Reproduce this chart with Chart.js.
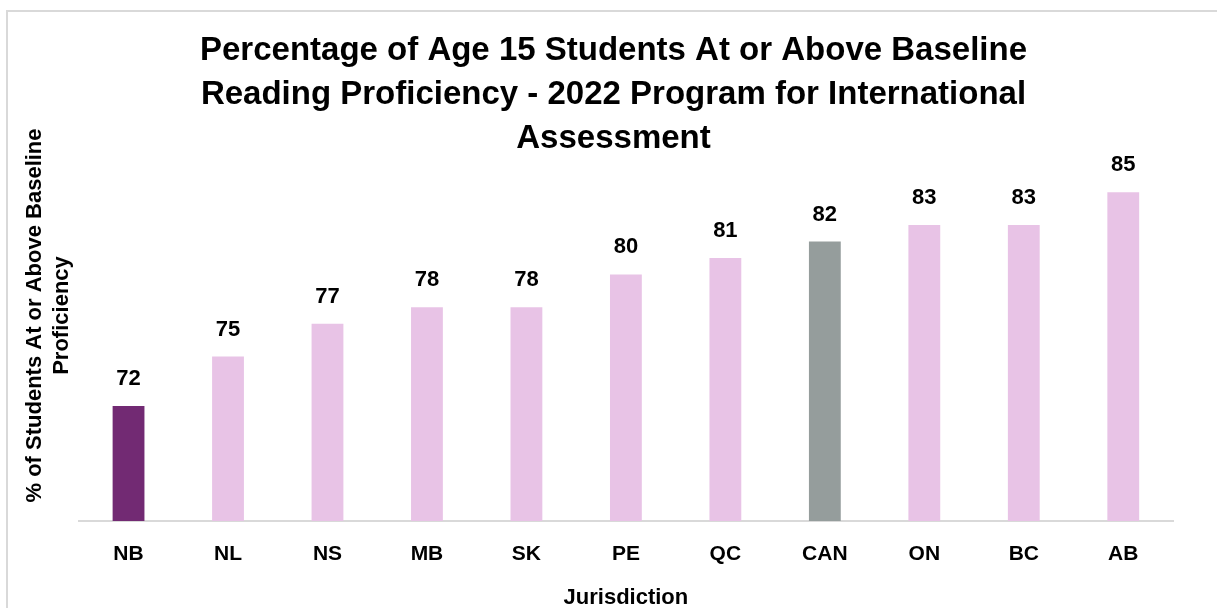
<!DOCTYPE html>
<html>
<head>
<meta charset="utf-8">
<script src="https://cdn.jsdelivr.net/npm/chart.js@4/dist/chart.umd.min.js"></script>
<style>
  html, body { margin: 0; padding: 0; background: #ffffff; }
  body { width: 1217px; height: 608px; position: relative; overflow: hidden; }
  #frame {
    position: absolute; left: 6px; top: 10px; width: 1220px; height: 610px;
    border-left: 2px solid #d9d9d9; border-top: 2px solid #d9d9d9;
  }
  #wrap { position: absolute; left: 0; top: 0; width: 1217px; height: 608px; }
</style>
</head>
<body>
<div id="frame"></div>
<div id="wrap"><canvas id="readingChart"></canvas></div>
<script>
const jurisdictions = ["NB", "NL", "NS", "MB", "SK", "PE", "QC", "CAN", "ON", "BC", "AB"];
const proficiency = [72, 75, 77, 78, 78, 80, 81, 82, 83, 83, 85];
const barColors = ["#722a73", "#e8c3e6", "#e8c3e6", "#e8c3e6", "#e8c3e6", "#e8c3e6",
                   "#e8c3e6", "#959d9c", "#e8c3e6", "#e8c3e6", "#e8c3e6"];
const titleLines = [
    "Percentage of Age 15 Students At or Above Baseline",
    "Reading Proficiency - 2022 Program for International",
    "Assessment"
];

const font = "'Liberation Sans', Arial, sans-serif";

// title + value labels drawn on the canvas
const labelPlugin = {
    id: "labelPlugin",
    afterDraw(chart) {
        const c = chart.ctx;
        c.save();
        c.fillStyle = "#000";
        c.textAlign = "center";
        c.textBaseline = "middle";
        c.font = "bold 33px " + font;
        const mid = chart.width / 2 + 5;
        titleLines.forEach((t, i) => c.fillText(t, mid, 51 + i * 44));

        c.font = "bold 22px " + font;
        const meta = chart.getDatasetMeta(0);
        meta.data.forEach((bar, i) => {
            c.fillText(String(proficiency[i]), bar.x, bar.y - 27);
        });
        c.restore();
    }
};

const ctx = document.getElementById("readingChart");

new Chart(ctx, {
    type: "bar",
    data: {
        labels: jurisdictions,
        datasets: [{
            data: proficiency,
            backgroundColor: barColors,
            categoryPercentage: 1,
            barPercentage: 0.32
        }]
    },
    options: {
        responsive: true,
        maintainAspectRatio: false,
        animation: false,
        layout: { padding: { left: 22, right: 44, top: 110, bottom: 0 } },
        plugins: {
            legend: { display: false },
            tooltip: { enabled: false },
            title: { display: false }
        },
        scales: {
            x: {
                grid: { display: false, drawTicks: false },
                border: { display: true, color: "#d9d9d9", width: 2 },
                ticks: {
                    color: "#000",
                    padding: 21,
                    font: { family: font, size: 21, weight: "bold" }
                },
                title: {
                    display: true,
                    text: "Jurisdiction",
                    color: "#000",
                    padding: { top: 0, bottom: 0 },
                    font: { family: font, size: 22, weight: "bold", lineHeight: 0.9 }
                }
            },
            y: {
                min: 65,
                max: 90,
                grid: { display: false, drawTicks: false },
                border: { display: false },
                ticks: { display: false },
                title: {
                    display: true,
                    text: ["% of Students At or Above Baseline", "Proficiency"],
                    color: "#000",
                    padding: { top: 0, bottom: 4 },
                    font: { family: font, size: 22, weight: "bold", lineHeight: 1.2 }
                }
            }
        }
    },
    plugins: [labelPlugin]
});
</script>
</body>
</html>
